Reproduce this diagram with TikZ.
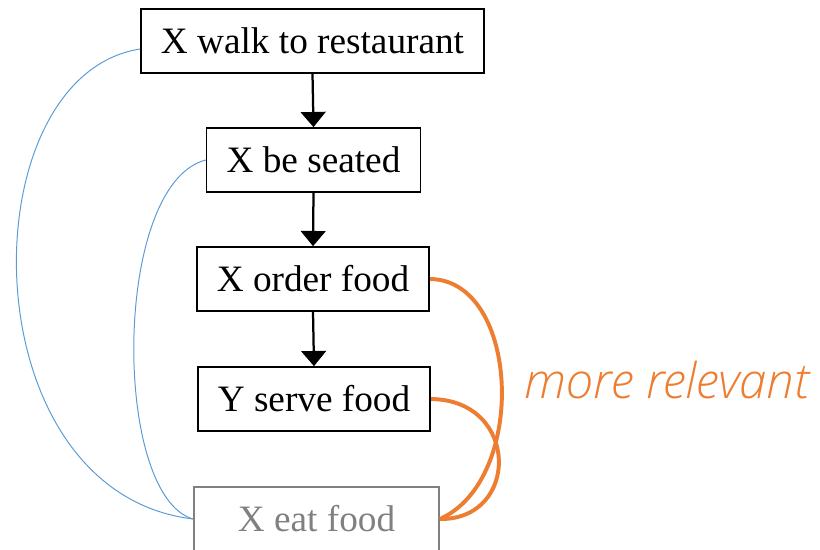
\documentclass[tikz,border=0pt]{standalone}
\usepackage{fontspec}
\setmainfont{Liberation Serif}
\newfontfamily\notefont{Open Sans}[UprightFont=* Light,ItalicFont=* Light Italic]
\usetikzlibrary{arrows.meta}

\definecolor{linkblue}{HTML}{5B9BD5}
\definecolor{linkorange}{HTML}{ED7D31}
\definecolor{fadegray}{HTML}{808080}

\begin{document}
\begin{tikzpicture}[
		event/.style={draw,line width=1.2pt,font=\fontsize{26.5}{30}\selectfont,inner xsep=0.5cm,inner ysep=0pt,minimum height=1.6cm},
		next/.style={line width=1.6pt,-{Triangle[width=0.62cm,length=0.38cm]}},
		far/.style={linkblue,line width=0.7pt},
		near/.style={linkorange,line width=2.8pt}]
		\useasboundingbox (0,0) rectangle (20.5,-13.725);
		\clip (0,0) rectangle (20.5,-13.725);
		\node[event] (walk) at (7.8125,-1.025) {X walk to restaurant};
		\node[event] (seated) at (7.8375,-4.0) {X be seated};
		\node[event] (order) at (7.825,-6.975) {X order food};
		\node[event] (serve) at (7.85,-9.975) {Y serve food};
		\node[event,draw=fadegray,text=fadegray,minimum width=6.125cm] (eat) at (7.9125,-12.975) {X eat food};
		\draw[next] (walk.south) -- (seated.north);
		\draw[next] (seated.south) -- (order.north);
		\draw[next] (order.south) -- (serve.north);
		\draw[far] ([yshift=-0.2cm]walk.west) .. controls (-0.82,-1.9) and (-0.82,-12.3) .. (eat.west);
		\draw[far] (seated.west) .. controls (2.8,-4.6) and (2.8,-12.4) .. (eat.west);
		\draw[near] (order.east) .. controls (13.0,-7.0) and (13.2,-12.0) .. (eat.east);
		\draw[near] (serve.east) .. controls (13.0,-10.0) and (13.0,-13.0) .. (eat.east);
		\node[linkorange,font=\notefont\itshape\fontsize{35}{40}\selectfont] (note) at (16.675,-9.5) {more relevant};
	\end{tikzpicture}
\end{document}
